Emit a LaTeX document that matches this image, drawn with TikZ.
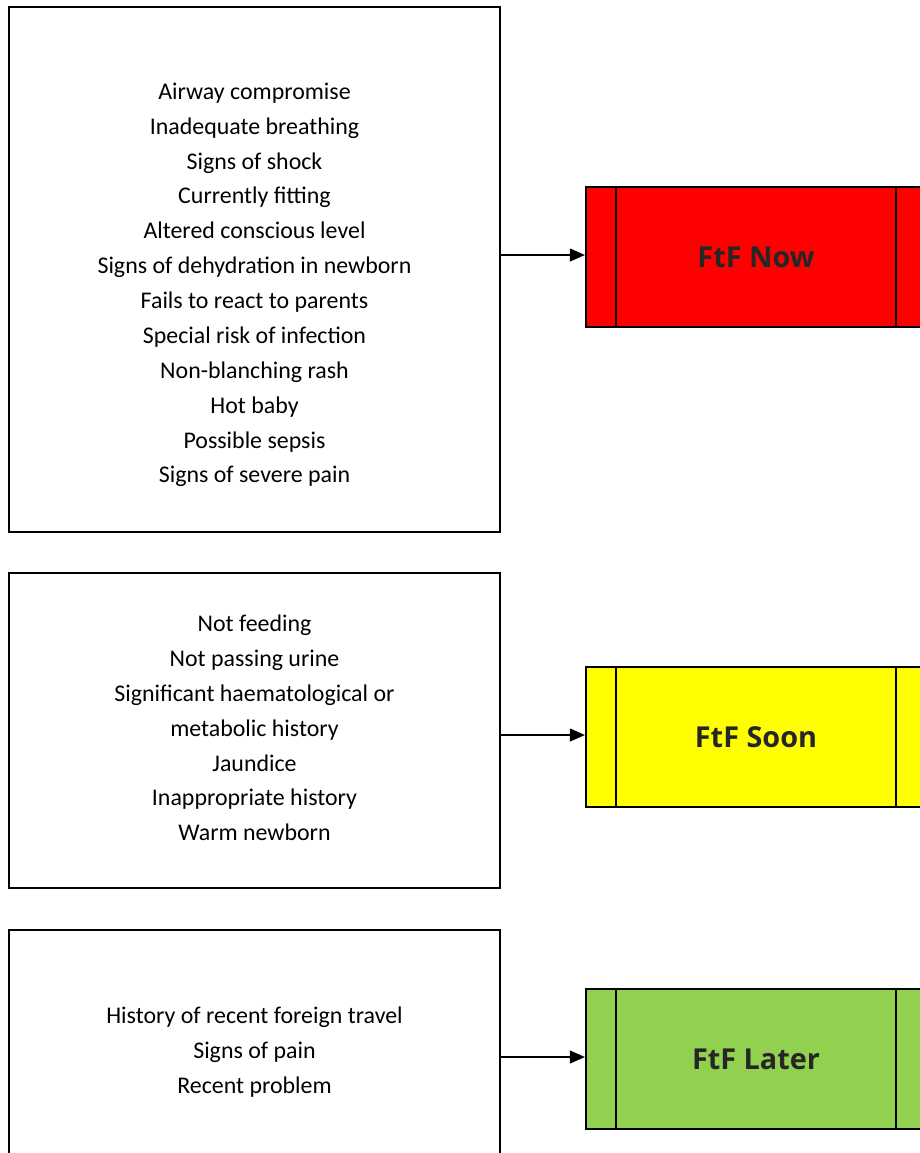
\documentclass[tikz,border=0pt]{standalone}
\usepackage{fontspec}
\setmainfont{Carlito}
\newfontfamily\labelfont{Open Sans}
\usetikzlibrary{arrows.meta}

\definecolor{nowred}{HTML}{FF0000}
\definecolor{soonyellow}{HTML}{FFFF00}
\definecolor{latergreen}{HTML}{92D050}
\definecolor{labelgrey}{HTML}{262626}

\tikzset{
  critbox/.style={draw, line width=1.4pt, minimum width=12.275cm, inner sep=0pt},
  critlist/.style={align=center, font=\fontsize{17}{24.8}\selectfont},
  outcome/.style={draw, line width=1.4pt, minimum width=8.5cm, minimum height=3.5cm,
    inner sep=0pt, font=\labelfont\bfseries\fontsize{20.5}{24}\selectfont, text=labelgrey},
  arrow/.style={line width=1.4pt, -{Triangle[length=0.38cm, width=0.32cm]}}
}

\begin{document}
\begin{tikzpicture}[x=0.025cm, y=-0.025cm]
  \useasboundingbox (0,0) rectangle (920,1153);
  \clip (0,0) rectangle (920,1153);

  % criteria boxes
  \node[critbox, minimum height=13.125cm] (crit1) at (254.5,269.5) {};
  \node[critbox, minimum height=7.875cm] (crit2) at (254.5,730.5) {};
  \node[critbox, minimum height=6.25cm] (crit3) at (254.5,1055) {};

  \node[critlist] (list1) at (254.5,285) {Airway compromise\\ Inadequate breathing\\ Signs of shock\\
    Currently fitting\\ Altered conscious level\\ Signs of dehydration in newborn\\
    Fails to react to parents\\ Special risk of infection\\ Non-blanching rash\\
    Hot baby\\ Possible sepsis\\ Signs of severe pain};
  \node[critlist] (list2) at (254.5,728) {Not feeding\\ Not passing urine\\
    Significant haematological or\\ metabolic history\\ Jaundice\\
    Inappropriate history\\ Warm newborn};
  \node[critlist] (list3) at (254.5,1052) {History of recent foreign travel\\
    Signs of pain\\ Recent problem};

  % outcome boxes
  \node[outcome, fill=nowred] (now) at (756,257) {FtF Now};
  \node[outcome, fill=soonyellow] (soon) at (756,737) {FtF Soon};
  \node[outcome, fill=latergreen] (later) at (756,1059) {FtF Later};

  \foreach \n in {now,soon,later} {
    \draw[line width=1.4pt] ([xshift=0.775cm]\n.north west) -- ([xshift=0.775cm]\n.south west);
    \draw[line width=1.4pt] ([xshift=-0.775cm]\n.north east) -- ([xshift=-0.775cm]\n.south east);
  }

  \draw[arrow] ([yshift=0.05cm]now.west -| crit1.east) -- ([yshift=0.05cm]now.west);
  \draw[arrow] ([yshift=0.05cm]soon.west -| crit2.east) -- ([yshift=0.05cm]soon.west);
  \draw[arrow] ([yshift=0.05cm]later.west -| crit3.east) -- ([yshift=0.05cm]later.west);
\end{tikzpicture}
\end{document}
